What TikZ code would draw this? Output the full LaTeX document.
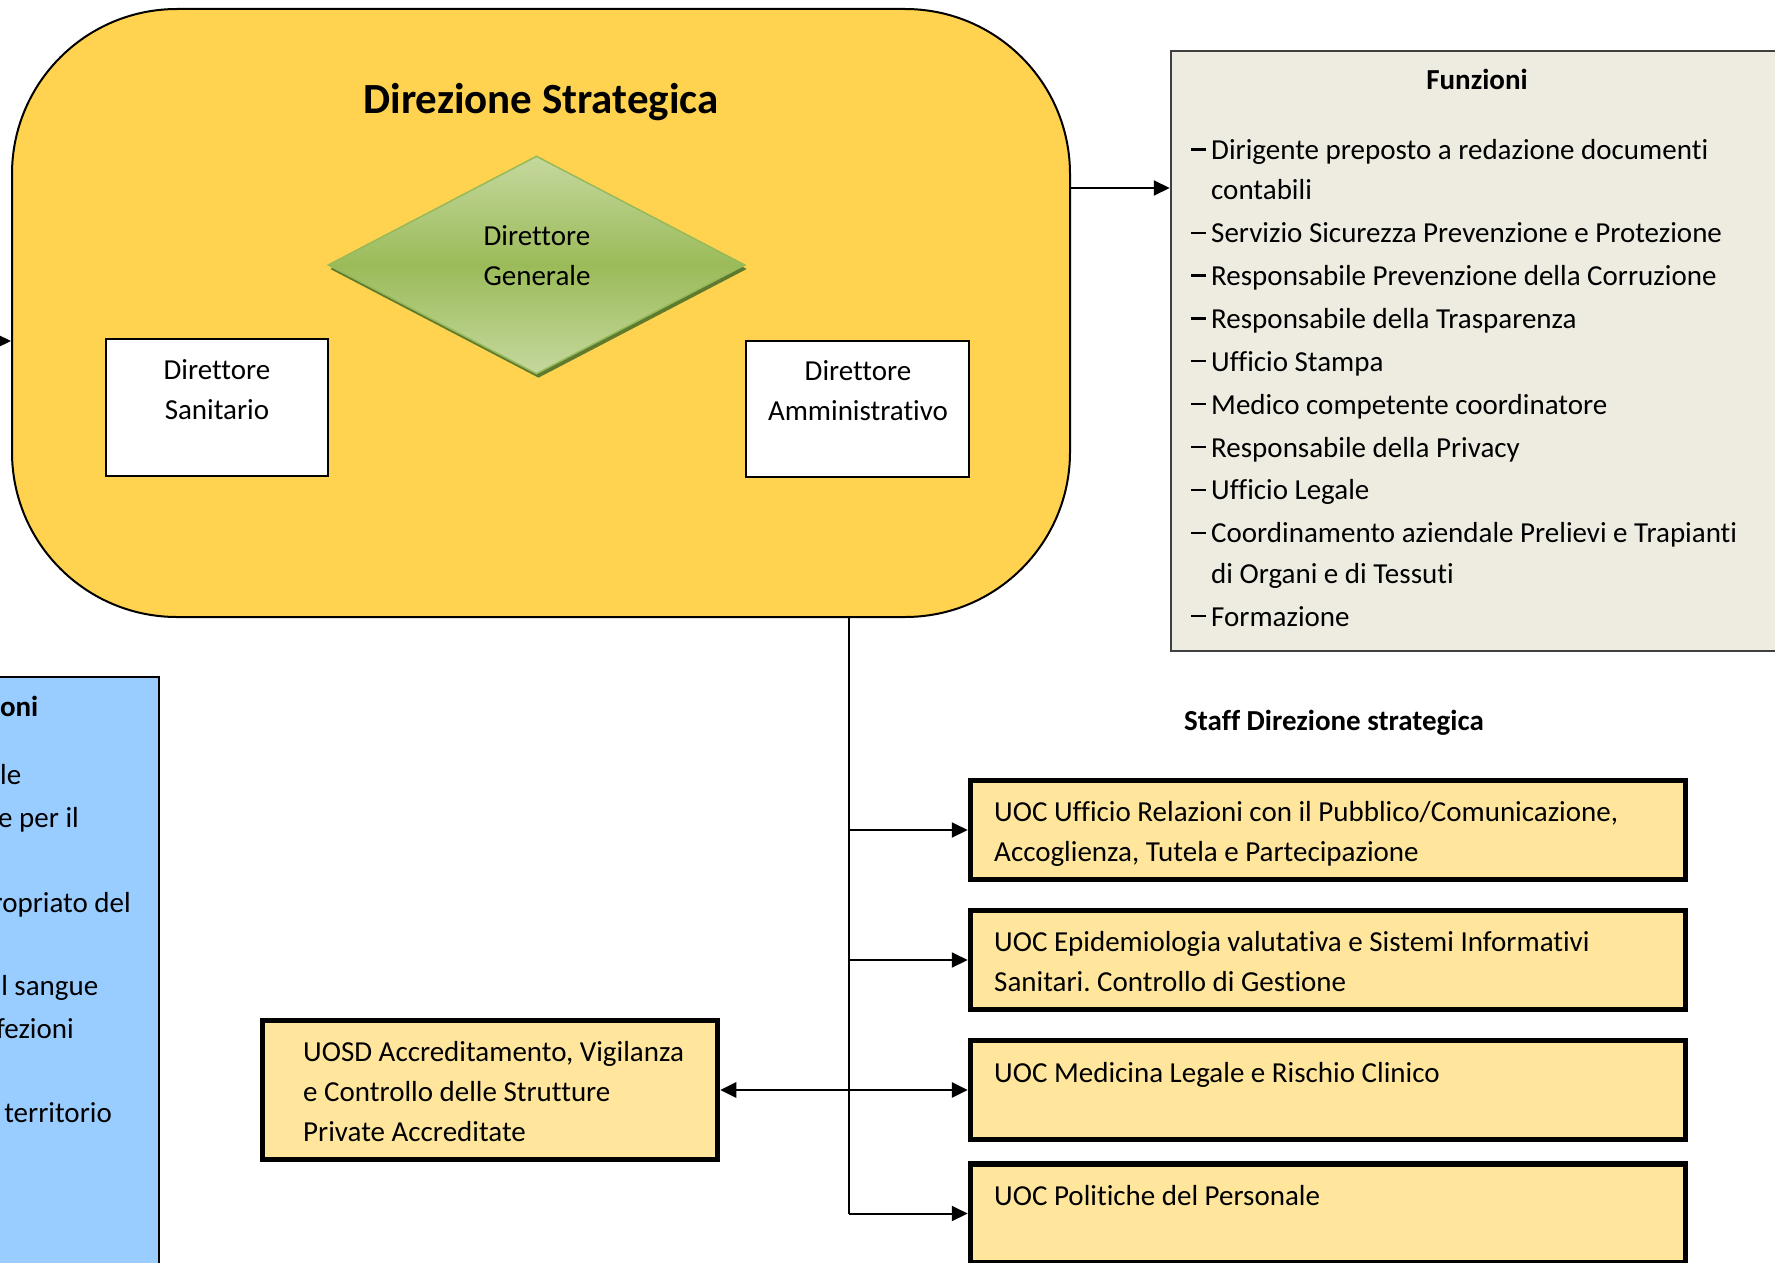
\documentclass[tikz,border=0pt]{standalone}
\usepackage{fontspec}
\setmainfont{Carlito}[Ligatures=CommonOff]
\usetikzlibrary{arrows.meta,shapes.geometric,shadows}
\frenchspacing

\definecolor{dsyellow}{RGB}{255,211,79}
\definecolor{staffyellow}{RGB}{255,230,156}
\definecolor{funzgray}{RGB}{238,236,225}
\definecolor{funzedge}{RGB}{64,64,64}
\definecolor{sideblue}{RGB}{153,204,255}
\definecolor{dglight}{RGB}{197,216,158}
\definecolor{dgdark}{RGB}{155,187,89}
\definecolor{dgedge}{RGB}{150,185,90}
\definecolor{dgshadow}{RGB}{94,122,46}

% dash and hanging indent of the list of functions
\newcommand{\itemdash}{\makebox[20pt][l]{\rule[8.8pt]{15pt}{2.2pt}}}
\newcommand{\itemhang}{\hspace*{20pt}}

\tikzset{
  txt/.style={font=\fontsize{29}{40.3}\selectfont, align=left, inner sep=0pt,
              anchor=north west, execute at begin node=\strut},
  ctxt/.style={txt, align=center, anchor=north},
  frag/.style={font=\fontsize{29}{40.3}\selectfont, inner sep=0pt, anchor=base east},
  head/.style={font=\bfseries\fontsize{29}{40.3}\selectfont, inner sep=0pt, anchor=base},
  plainbox/.style={draw=black, line width=2pt, fill=white, inner sep=0pt},
  stbox/.style={draw=black, line width=5.5pt, fill=staffyellow, inner sep=0pt,
                minimum width=715pt, minimum height=99pt},
  arr/.style={line width=2pt, -{Triangle[length=16pt,width=15pt]}},
}

\begin{document}
\begin{tikzpicture}[x=1pt,y=-1pt]
\path[use as bounding box] (0,0) rectangle (1775,1263);
\clip (0,0) rectangle (1775,1263);

% side panel on the left, cut by the page edge
\node[draw=black, line width=2pt, fill=sideblue, inner sep=0pt,
      minimum width=209pt, minimum height=623pt] (side) at (54.5,988.5) {};
\node[head, anchor=base east] (sideh) at (38.5,716) {oni};
\node[frag] (sf1) at (21.5,784.5) {le};
\node[frag] (sf2) at (79,827.5) {e per il};
\node[frag] (sf3) at (131,912) {ropriato del};
\node[frag] (sf4) at (98.5,995) {l sangue};
\node[frag] (sf5) at (74,1038) {fezioni};
\node[frag] (sf6) at (112,1122) {territorio};

% functions panel on the right
\node[draw=funzedge, line width=2.5pt, fill=funzgray, inner sep=0pt,
      minimum width=659pt, minimum height=600pt] (funz) at (1500.5,351) {};
\node[head] (funzh) at (1477,89) {Funzioni};
\node[txt] (funzl) at (1191,139) {%
\itemdash Dirigente preposto a redazione documenti\\
\itemhang contabili\\[2.6pt]
\itemdash Servizio Sicurezza Prevenzione e Protezione\\[2.6pt]
\itemdash Responsabile Prevenzione della Corruzione\\[2.6pt]
\itemdash Responsabile della Trasparenza\\[2.6pt]
\itemdash Ufficio Stampa\\[2.6pt]
\itemdash Medico competente coordinatore\\[2.6pt]
\itemdash Responsabile della Privacy\\[2.6pt]
\itemdash Ufficio Legale\\[2.6pt]
\itemdash Coordinamento aziendale Prelievi e Trapianti\\
\itemhang di Organi e di Tessuti\\[2.6pt]
\itemdash Formazione};

% strategic direction
\node[draw=black, line width=2pt, fill=dsyellow, rounded corners=165pt, inner sep=0pt,
      minimum width=1058pt, minimum height=608pt] (dir) at (541,313) {};
\node[font=\bfseries\fontsize{43}{50}\selectfont, inner sep=0pt, anchor=base] (dirh)
      at (541,113) {Direzione Strategica};

\node[diamond, draw=dgedge, line width=1.5pt, inner sep=0pt,
      minimum width=417pt, minimum height=218pt,
      top color=dglight, bottom color=dglight, middle color=dgdark,
      drop shadow={shadow xshift=2pt, shadow yshift=-4pt, fill=dgshadow, opacity=1}]
      (dg) at (536.5,265) {};
\node[ctxt] (dgt) at (537,225) {Direttore\\Generale};

\node[plainbox, minimum width=222pt, minimum height=137pt] (ds) at (217,407.5) {};
\node[ctxt] (dst) at (217,359) {Direttore\\Sanitario};
\node[plainbox, minimum width=223pt, minimum height=136pt] (da) at (857.5,409) {};
\node[ctxt] (dat) at (858,360) {Direttore\\Amministrativo};

% staff of the strategic direction
\node[head] (staffh) at (1334,730) {Staff Direzione strategica};
\node[stbox] (s1) at (1328,830) {};
\node[txt] (s1t) at (994,801) {UOC Ufficio Relazioni con il Pubblico/Comunicazione,\\Accoglienza, Tutela e Partecipazione};
\node[stbox] (s2) at (1328,960) {};
\node[txt] (s2t) at (994,931) {UOC Epidemiologia valutativa e Sistemi Informativi\\Sanitari. Controllo di Gestione};
\node[stbox] (s3) at (1328,1090) {};
\node[txt] (s3t) at (994,1054) {UOC Medicina Legale e Rischio Clinico};
\node[stbox] (s4) at (1328,1213.5) {};
\node[txt] (s4t) at (994,1177) {UOC Politiche del Personale};

\node[stbox, minimum width=455pt, minimum height=139pt] (uosd) at (490,1090) {};
\node[txt] (uosdt) at (303,1041) {UOSD Accreditamento, Vigilanza\\e Controllo delle Strutture\\Private Accreditate};

% connectors
\coordinate (inl) at (-40,341);
\coordinate (fy) at (0,188);
\coordinate (vx) at (849,0);
\draw[arr] (inl) -- (inl -| dir.west);
\draw[arr] (dir.east |- fy) -- (funz.west |- fy);
\draw[line width=1.5pt] (vx |- dir.south) -- (vx |- s4.west);
\draw[arr] (vx |- s1.west) -- (s1.west);
\draw[arr] (vx |- s2.west) -- (s2.west);
\draw[arr] (vx |- s4.west) -- (s4.west);
\draw[line width=2.8pt, {Triangle[length=16pt,width=15pt]}-{Triangle[length=16pt,width=15pt]}]
     (uosd.east) -- (s3.west);
\end{tikzpicture}
\end{document}
